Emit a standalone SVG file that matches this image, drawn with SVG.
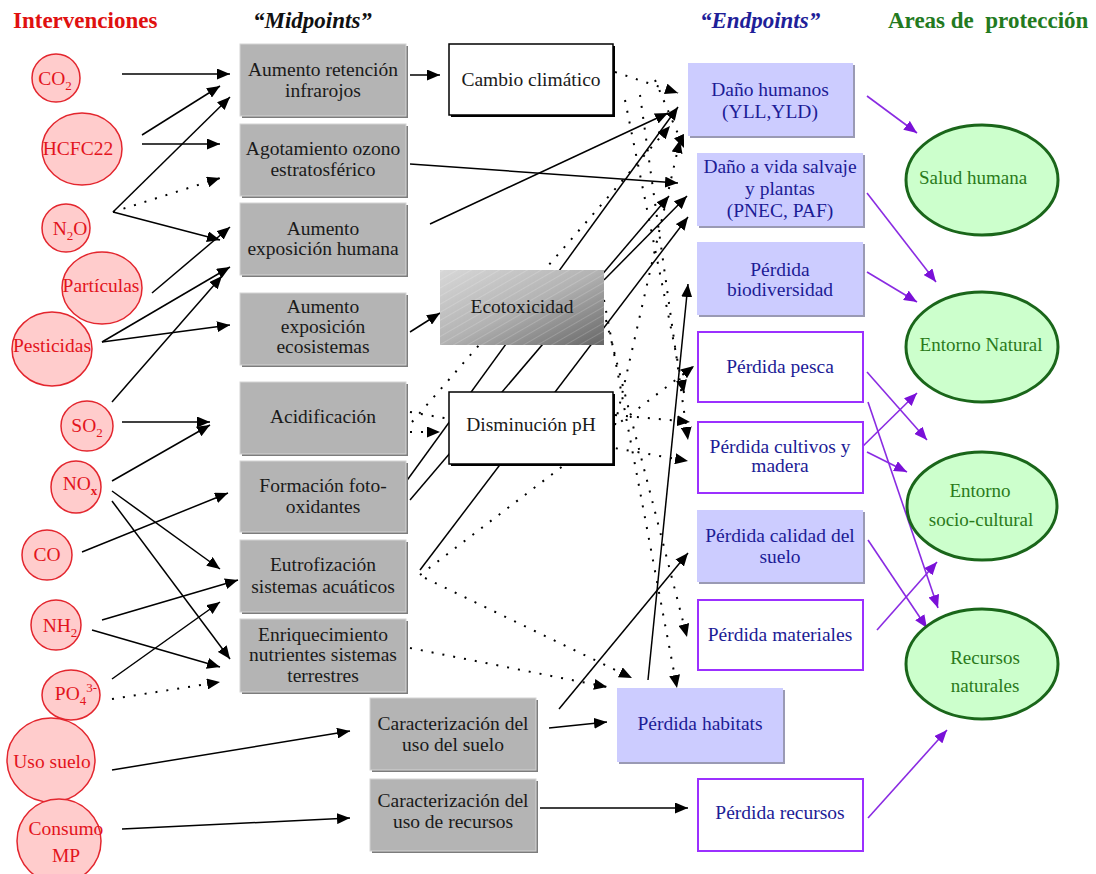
<svg xmlns="http://www.w3.org/2000/svg" width="1096" height="874" viewBox="0 0 1096 874">
<style>
text{font-family:"Liberation Serif","Times New Roman",serif;}
.title{font-size:23px;font-weight:bold;}
.bt{font-size:19.5px;fill:#1a1a1a;text-anchor:middle;}
.et{font-size:19.5px;fill:#1c1c96;text-anchor:middle;}
.gt{font-size:19px;fill:#2a7a1a;text-anchor:middle;}
.rt{font-size:19.5px;fill:#e3141c;text-anchor:middle;}
.circ{fill:#ffcccc;stroke:#e3262e;stroke-width:1.5;}
.gsh{fill:#7c7c7c;}
.gb{fill:#b4b4b4;stroke:#d4d4d4;stroke-width:1;}
.lsh{fill:#9a9ab4;}
.lb{fill:#ccccff;}
.wb{fill:#ffffff;stroke:#9b30ff;stroke-width:2;}
.ell{fill:#ccffcc;stroke:#1a661a;stroke-width:3;}
.a{stroke:#000;stroke-width:1.5;fill:none;marker-end:url(#ah);}
.d{stroke:#000;stroke-width:2;fill:none;stroke-dasharray:2 9;marker-end:url(#ah);}
.p{stroke:#8a2be2;stroke-width:1.6;fill:none;marker-end:url(#ph);}
</style>
<defs>
<marker id="ah" markerUnits="userSpaceOnUse" markerWidth="13" markerHeight="11" refX="13" refY="5.5" orient="auto">
<path d="M0,0 L13,5.5 L0,11 z" fill="#000"/>
</marker>
<marker id="ph" markerUnits="userSpaceOnUse" markerWidth="13" markerHeight="11" refX="13" refY="5.5" orient="auto">
<path d="M0,0 L13,5.5 L0,11 z" fill="#7a10d8"/>
</marker>
<linearGradient id="eco" x1="0" y1="0" x2="1" y2="1">
<stop offset="0" stop-color="#d8d8d8"/>
<stop offset="0.5" stop-color="#b2b2b2"/>
<stop offset="1" stop-color="#666666"/>
</linearGradient>
<pattern id="hatch" patternUnits="userSpaceOnUse" width="7" height="7" patternTransform="rotate(-30)">
<line x1="0" y1="0" x2="7" y2="0" stroke="#ffffff" stroke-width="1" stroke-opacity="0.35"/>
</pattern>
</defs>
<rect width="1096" height="874" fill="#ffffff"/>

<g id="titles">
<text class="title" x="13" y="28" fill="#e01010">Intervenciones</text>
<text class="title" x="253" y="28" fill="#111" font-style="italic">“Midpoints”</text>
<text class="title" x="700" y="28" fill="#1f1f99" font-style="italic">“Endpoints”</text>
<text class="title" x="888" y="28" fill="#237a1e" xml:space="preserve">Areas de  protección</text>
</g>

<g id="connectors">
<path class="a" d="M122,74 L230,74"/>
<path class="a" d="M142,135 L220,86"/>
<path class="a" d="M142,144 L220,144"/>
<path class="a" d="M113,212 L230,97"/>
<path class="a" d="M113,212 L220,240"/>
<path class="a" d="M152,293 L230,227"/>
<path class="a" d="M102,342 L230,267"/>
<path class="a" d="M102,342 L230,325"/>
<path class="a" d="M112,402 L222,276"/>
<path class="a" d="M122,422 L210,422"/>
<path class="a" d="M112,481 L210,425"/>
<path class="a" d="M112,491 L220,569"/>
<path class="a" d="M112,501 L230,659"/>
<path class="a" d="M82,552 L228,493"/>
<path class="a" d="M102,620 L238,580"/>
<path class="a" d="M92,630 L220,667"/>
<path class="a" d="M112,679 L220,602"/>
<path class="a" d="M112,770 L350,731"/>
<path class="a" d="M122,829 L350,818"/>
<path class="a" d="M410,75 L440,75"/>
<path class="a" d="M410,164 L678,183"/>
<path class="a" d="M430,224 L668,113"/>
<path class="a" d="M410,332 L440,313"/>
<path class="a" d="M400,490 L678,107"/>
<path class="a" d="M410,500 L669,196"/>
<path class="a" d="M420,570 L688,217"/>
<path class="a" d="M604,280 L687,196"/>
<path class="a" d="M559,709 L688,553"/>
<path class="a" d="M549,728 L607,722"/>
<path class="a" d="M648,680 L688,284"/>
<path class="a" d="M540,808 L688,808"/>

<path class="d" d="M113,212 L220,178"/>
<path class="d" d="M112,699 L220,682"/>
<path class="d" d="M410,432 L440,432"/>
<path class="d" d="M410,412 L688,461"/>
<path class="d" d="M412,422 L670,126"/>
<path class="d" d="M420,575 L694,366"/>
<path class="d" d="M410,648 L607,687"/>
<path class="d" d="M425,578 L632,678"/>
<path class="d" d="M615,72 L678,93"/>
<path class="d" d="M625,100 L684,393"/>
<path class="d" d="M640,95 L688,440"/>
<path class="d" d="M655,80 L684,148"/>
<path class="d" d="M615,425 L680,140"/>
<path class="d" d="M604,300 L677,688"/>
<path class="d" d="M606,320 L687,637"/>
<path class="d" d="M615,415 L690,422"/>

<path class="p" d="M867,96 L917,133"/>
<path class="p" d="M867,193 L936,282"/>
<path class="p" d="M867,272 L917,302"/>
<path class="p" d="M867,372 L927,440"/>
<path class="p" d="M857,452 L917,393"/>
<path class="p" d="M867,452 L907,472"/>
<path class="p" d="M868,402 L938,608"/>
<path class="p" d="M868,540 L927,628"/>
<path class="p" d="M877,630 L937,562"/>
<path class="p" d="M868,818 L947,730"/>
</g>

<g id="n-co2"><circle class="circ" cx="56" cy="78" r="24"/><text class="rt" x="55" y="85">CO<tspan font-size="13" dy="5">2</tspan></text></g>
<g id="n-hcfc22"><ellipse class="circ" cx="82" cy="149" rx="40" ry="36"/><text class="rt" x="78" y="155">HCFC22</text></g>
<g id="n-n2o"><circle class="circ" cx="66" cy="228" r="24"/><text class="rt" x="70" y="235">N<tspan font-size="13" dy="5">2</tspan><tspan dy="-5">O</tspan></text></g>
<g id="n-particulas"><ellipse class="circ" cx="102" cy="288" rx="40" ry="36"/><text class="rt" x="101" y="292">Partículas</text></g>
<g id="n-pesticidas"><ellipse class="circ" cx="52" cy="349" rx="40" ry="37"/><text class="rt" x="52" y="352">Pesticidas</text></g>
<g id="n-so2"><ellipse class="circ" cx="87" cy="426" rx="26" ry="25"/><text class="rt" x="87" y="432">SO<tspan font-size="13" dy="5">2</tspan></text></g>
<g id="n-nox"><ellipse class="circ" cx="76" cy="487" rx="25" ry="26"/><text class="rt" x="80" y="490">NO<tspan font-size="13" dy="5" font-weight="bold">x</tspan></text></g>
<g id="n-co"><circle class="circ" cx="47" cy="555" r="25"/><text class="rt" x="47" y="561">CO</text></g>
<g id="n-nh2"><circle class="circ" cx="56" cy="625" r="25"/><text class="rt" x="60" y="632">NH<tspan font-size="13" dy="5">2</tspan></text></g>
<g id="n-po4"><ellipse class="circ" cx="71" cy="695" rx="29" ry="25"/><text class="rt" x="76" y="700">PO<tspan font-size="13" dy="5">4</tspan><tspan font-size="13" dy="-13">3-</tspan></text></g>
<g id="n-usosuelo"><ellipse class="circ" cx="51" cy="760" rx="44" ry="42"/><text class="rt" x="52" y="768">Uso suelo</text></g>
<g id="n-consumo"><ellipse class="circ" cx="59" cy="841" rx="42" ry="42"/><text class="rt" x="66" y="835">Consumo</text><text class="rt" x="66" y="862">MP</text></g>

<g id="m-retencion"><rect class="gsh" x="242" y="46" width="166" height="72"/><rect class="gb" x="240" y="44" width="166" height="72"/><text class="bt" x="323" y="76">Aumento retención</text><text class="bt" x="323" y="97">infrarojos</text></g>
<g id="m-ozono"><rect class="gsh" x="242" y="126" width="166" height="72"/><rect class="gb" x="240" y="124" width="166" height="72"/><text class="bt" x="323" y="155">Agotamiento ozono</text><text class="bt" x="323" y="176">estratosférico</text></g>
<g id="m-humana"><rect class="gsh" x="242" y="205" width="166" height="72"/><rect class="gb" x="240" y="203" width="166" height="72"/><text class="bt" x="323" y="235">Aumento</text><text class="bt" x="323" y="255">exposición humana</text></g>
<g id="m-ecosistemas"><rect class="gsh" x="242" y="295" width="166" height="72"/><rect class="gb" x="240" y="293" width="166" height="72"/><text class="bt" x="323" y="313">Aumento</text><text class="bt" x="323" y="333">exposición</text><text class="bt" x="323" y="353">ecosistemas</text></g>
<g id="m-acidificacion"><rect class="gsh" x="242" y="384" width="166" height="72"/><rect class="gb" x="240" y="382" width="166" height="72"/><text class="bt" x="323" y="423">Acidificación</text></g>
<g id="m-fotooxidantes"><rect class="gsh" x="242" y="463" width="166" height="71"/><rect class="gb" x="240" y="461" width="166" height="71"/><text class="bt" x="323" y="492">Formación foto-</text><text class="bt" x="323" y="513">oxidantes</text></g>
<g id="m-eutrofizacion"><rect class="gsh" x="242" y="542" width="166" height="72"/><rect class="gb" x="240" y="540" width="166" height="72"/><text class="bt" x="323" y="571">Eutrofización</text><text class="bt" x="323" y="593">sistemas acuáticos</text></g>
<g id="m-enriquecimiento"><rect class="gsh" x="242" y="621" width="166" height="73"/><rect class="gb" x="240" y="619" width="166" height="73"/><text class="bt" x="323" y="641">Enriquecimiento</text><text class="bt" x="323" y="661">nutrientes sistemas</text><text class="bt" x="323" y="682">terrestres</text></g>
<g id="m-usosuelo"><rect class="gsh" x="372" y="700" width="166" height="72"/><rect class="gb" x="370" y="698" width="166" height="72"/><text class="bt" x="453" y="730">Caracterización del</text><text class="bt" x="453" y="751">uso del suelo</text></g>
<g id="m-recursos"><rect class="gsh" x="372" y="781" width="166" height="72"/><rect class="gb" x="370" y="779" width="166" height="72"/><text class="bt" x="453" y="807">Caracterización del</text><text class="bt" x="453" y="828">uso de recursos</text></g>

<g id="c-cambio"><rect x="451" y="46" width="164" height="71" fill="#000"/><rect x="449" y="44" width="164" height="71" fill="#fff" stroke="#000" stroke-width="1.5"/><text class="bt" x="531" y="86" fill="#202020">Cambio climático</text></g>
<g id="c-ecotox"><rect x="440" y="270" width="164" height="75" fill="url(#eco)"/><rect x="440" y="270" width="164" height="75" fill="url(#hatch)"/><text class="bt" x="522" y="313">Ecotoxicidad</text></g>
<g id="c-ph"><rect x="451" y="394" width="164" height="72" fill="#000"/><rect x="449" y="392" width="164" height="72" fill="#fff" stroke="#000" stroke-width="1.5"/><text class="bt" x="531" y="431" fill="#202020">Disminución pH</text></g>

<g id="e-humanos"><rect class="lsh" x="690" y="65" width="165" height="73"/><rect class="lb" x="688" y="63" width="165" height="73"/><text class="et" x="770" y="96">Daño humanos</text><text class="et" x="770" y="118">(YLL,YLD)</text></g>
<g id="e-salvaje"><rect class="lsh" x="699" y="155" width="166" height="73"/><rect class="lb" x="697" y="153" width="166" height="73"/><text class="et" x="780" y="173">Daño a vida salvaje</text><text class="et" x="780" y="195">y plantas</text><text class="et" x="780" y="217">(PNEC, PAF)</text></g>
<g id="e-biodiversidad"><rect class="lsh" x="699" y="244" width="166" height="73"/><rect class="lb" x="697" y="242" width="166" height="73"/><text class="et" x="780" y="276">Pérdida</text><text class="et" x="780" y="296">biodiversidad</text></g>
<g id="e-pesca"><rect class="wb" x="698" y="332" width="165" height="70"/><text class="et" x="780" y="373">Pérdida pesca</text></g>
<g id="e-cultivos"><rect class="wb" x="698" y="422" width="165" height="71"/><text class="et" x="780" y="453">Pérdida cultivos y</text><text class="et" x="780" y="472">madera</text></g>
<g id="e-suelo"><rect class="lsh" x="699" y="512" width="166" height="72"/><rect class="lb" x="697" y="510" width="166" height="72"/><text class="et" x="780" y="542">Pérdida calidad del</text><text class="et" x="780" y="563">suelo</text></g>
<g id="e-materiales"><rect class="wb" x="698" y="600" width="165" height="70"/><text class="et" x="780" y="641">Pérdida materiales</text></g>
<g id="e-habitats"><rect class="lsh" x="619" y="690" width="166" height="74"/><rect class="lb" x="617" y="688" width="166" height="74"/><text class="et" x="700" y="730">Pérdida habitats</text></g>
<g id="e-recursos"><rect class="wb" x="698" y="779" width="165" height="72"/><text class="et" x="780" y="819">Pérdida recursos</text></g>

<g id="a-salud"><ellipse class="ell" cx="982" cy="180" rx="76" ry="55"/><text class="gt" x="973" y="184">Salud humana</text></g>
<g id="a-natural"><ellipse class="ell" cx="982" cy="347" rx="76" ry="55"/><text class="gt" x="981" y="351">Entorno Natural</text></g>
<g id="a-sociocultural"><ellipse class="ell" cx="982" cy="506" rx="75" ry="54"/><text class="gt" x="980" y="497">Entorno</text><text class="gt" x="981" y="526">socio-cultural</text></g>
<g id="a-recursos"><ellipse class="ell" cx="982" cy="664" rx="76" ry="55"/><text class="gt" x="985" y="664">Recursos</text><text class="gt" x="985" y="692">naturales</text></g>
</svg>
